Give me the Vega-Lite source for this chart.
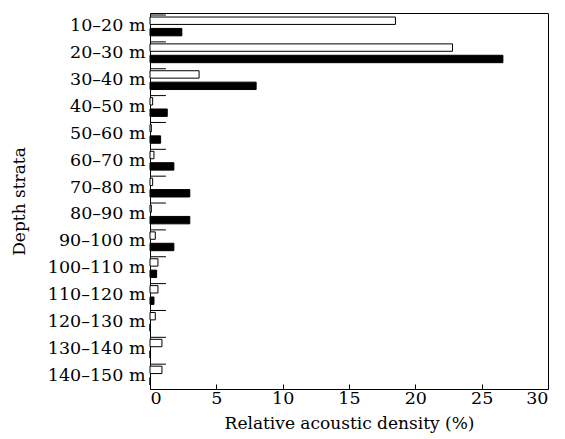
{
  "$schema": "https://vega.github.io/schema/vega-lite/v6.json",
  "width": 398,
  "height": 376,
  "padding": {"left": 10, "top": 13, "right": 10, "bottom": 5},
  "background": "white",
  "config": {
    "font": "DejaVu Serif",
    "view": {"stroke": "black", "strokeWidth": 1},
    "axis": {"labelFont": "DejaVu Serif", "titleFont": "DejaVu Serif", "labelColor": "black", "titleColor": "black", "domain": false, "grid": false, "labelFontSize": 17.5, "titleFontSize": 17, "titleFontWeight": "normal"}
  },
  "datasets": {
    "bars": [
      {"depth": "10–20 m", "series": "open", "value": 18.5},
      {"depth": "10–20 m", "series": "filled", "value": 2.4},
      {"depth": "20–30 m", "series": "open", "value": 22.8},
      {"depth": "20–30 m", "series": "filled", "value": 26.6},
      {"depth": "30–40 m", "series": "open", "value": 3.7},
      {"depth": "30–40 m", "series": "filled", "value": 8.0},
      {"depth": "40–50 m", "series": "open", "value": 0.2},
      {"depth": "40–50 m", "series": "filled", "value": 1.3},
      {"depth": "50–60 m", "series": "open", "value": 0.1},
      {"depth": "50–60 m", "series": "filled", "value": 0.8},
      {"depth": "60–70 m", "series": "open", "value": 0.3},
      {"depth": "60–70 m", "series": "filled", "value": 1.8},
      {"depth": "70–80 m", "series": "open", "value": 0.2},
      {"depth": "70–80 m", "series": "filled", "value": 3.0},
      {"depth": "80–90 m", "series": "open", "value": 0.1},
      {"depth": "80–90 m", "series": "filled", "value": 3.0},
      {"depth": "90–100 m", "series": "open", "value": 0.4},
      {"depth": "90–100 m", "series": "filled", "value": 1.8},
      {"depth": "100–110 m", "series": "open", "value": 0.6},
      {"depth": "100–110 m", "series": "filled", "value": 0.5},
      {"depth": "110–120 m", "series": "open", "value": 0.6},
      {"depth": "110–120 m", "series": "filled", "value": 0.3},
      {"depth": "120–130 m", "series": "open", "value": 0.4},
      {"depth": "120–130 m", "series": "filled", "value": 0},
      {"depth": "130–140 m", "series": "open", "value": 0.9},
      {"depth": "130–140 m", "series": "filled", "value": 0},
      {"depth": "140–150 m", "series": "open", "value": 0.9},
      {"depth": "140–150 m", "series": "filled", "value": 0}
    ],
    "ticks": [
      {"depth": "10–20 m", "value": 1.2},
      {"depth": "20–30 m", "value": 1.2},
      {"depth": "30–40 m", "value": 1.2},
      {"depth": "40–50 m", "value": 1.2},
      {"depth": "50–60 m", "value": 1.2},
      {"depth": "60–70 m", "value": 1.2},
      {"depth": "70–80 m", "value": 1.2},
      {"depth": "80–90 m", "value": 1.2},
      {"depth": "90–100 m", "value": 1.2},
      {"depth": "100–110 m", "value": 1.2},
      {"depth": "110–120 m", "value": 1.2},
      {"depth": "120–130 m", "value": 1.2},
      {"depth": "130–140 m", "value": 1.2},
      {"depth": "140–150 m", "value": 1.2}
    ]
  },
  "layer": [
    {
      "data": {"name": "bars"},
      "mark": {"type": "bar", "stroke": "black", "strokeWidth": 1},
      "encoding": {
        "y": {
          "field": "depth", "type": "nominal", "sort": null,
          "scale": {"paddingInner": 0.3, "paddingOuter": 0.15},
          "axis": {"title": "Depth strata", "ticks": false, "labelPadding": 5, "titlePadding": 19}
        },
        "x": {
          "field": "value", "type": "quantitative",
          "scale": {"domain": [0, 30], "nice": false},
          "axis": {"title": "Relative acoustic density (%)", "values": [0, 5, 10, 15, 20, 25, 30], "ticks": true, "tickSize": -5, "tickColor": "black", "labelPadding": 5, "titlePadding": 9}
        },
        "yOffset": {"field": "series", "type": "nominal", "scale": {"domain": ["open", "filled"], "paddingInner": 0.35}},
        "fill": {"field": "series", "type": "nominal", "scale": {"domain": ["open", "filled"], "range": ["white", "black"]}, "legend": null}
      }
    },
    {
      "data": {"name": "ticks"},
      "mark": {"type": "rule", "stroke": "black", "strokeWidth": 1, "yOffset": -2},
      "encoding": {
        "y": {"field": "depth", "type": "nominal", "sort": null, "bandPosition": 0},
        "x": {"field": "value", "type": "quantitative"},
        "x2": {"datum": 0}
      }
    }
  ]
}
